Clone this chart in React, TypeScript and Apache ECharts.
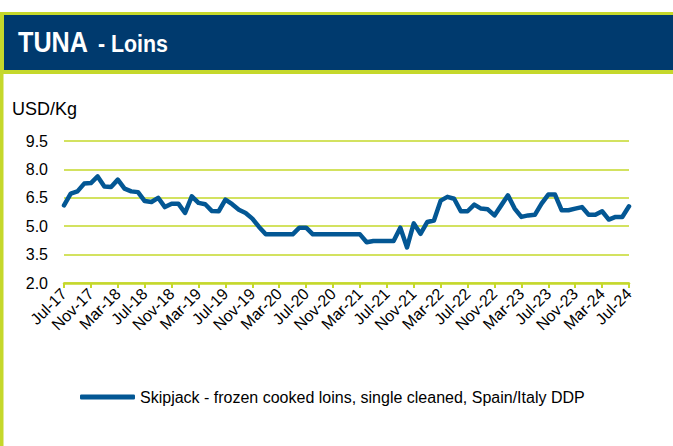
import React, { useEffect, useRef } from "react";
import * as echarts from "echarts";

const monthNames = ["Jan", "Feb", "Mar", "Apr", "May", "Jun", "Jul", "Aug", "Sep", "Oct", "Nov", "Dec"];
const startYear = 2017;
const startMonth = 6; // July
const pointCount = 85;
const categories: string[] = [];
for (let k = 0; k < pointCount; k++) {
  const m = (startMonth + k) % 12;
  const y = startYear + Math.floor((startMonth + k) / 12);
  categories.push(`${monthNames[m]}-${String(y).slice(2)}`);
}

const seriesName = "Skipjack - frozen cooked loins, single cleaned, Spain/Italy DDP";
const skipjackValues = [
  6.10, 6.72, 6.84, 7.25, 7.28, 7.63, 7.10, 7.07, 7.46, 6.98, 6.84, 6.80,
  6.33, 6.28, 6.50, 6.01, 6.19, 6.19, 5.70, 6.58, 6.23, 6.16, 5.80, 5.79,
  6.40, 6.16, 5.87, 5.70, 5.40, 4.96, 4.57, 4.57, 4.57, 4.57, 4.57, 4.92,
  4.92, 4.57, 4.57, 4.57, 4.57, 4.57, 4.57, 4.57, 4.57, 4.15, 4.22, 4.22,
  4.22, 4.22, 4.92, 3.88, 5.15, 4.60, 5.22, 5.30, 6.35, 6.55, 6.45, 5.79,
  5.79, 6.14, 5.93, 5.89, 5.57, 6.10, 6.63, 5.93, 5.49, 5.57, 5.60, 6.19,
  6.67, 6.67, 5.84, 5.84, 5.93, 6.01, 5.61, 5.61, 5.79, 5.35, 5.49, 5.49,
  6.05,
];

const yMin = 2.0;
const yMax = 9.5;
const yStep = 1.5;

const GREEN = "#c5d82b";
const NAVY = "#003a6e";
const LINE = "#035794";
const FONT = "'Liberation Sans', Arial, sans-serif";

export default function App() {
  const ref = useRef<HTMLDivElement>(null);
  useEffect(() => {
    if (!ref.current) return;
    const chart = echarts.init(ref.current, undefined, { renderer: "svg" });
    chart.setOption({
      animation: false,
      backgroundColor: "#ffffff",
      textStyle: { fontFamily: FONT },
      graphic: [
        { type: "rect", shape: { x: 0, y: 12, width: 673, height: 62 }, style: { fill: GREEN } },
        { type: "rect", shape: { x: 4, y: 15, width: 669, height: 55 }, style: { fill: NAVY } },
        { type: "rect", shape: { x: 0, y: 74, width: 3.5, height: 372 }, style: { fill: GREEN } },
        {
          type: "text",
          x: 18,
          y: 27,
          scaleX: 0.84,
          style: { text: "TUNA", fill: "#ffffff", font: `bold 30px ${FONT}`, verticalAlign: "top" },
        },
        {
          type: "text",
          x: 98,
          y: 32,
          scaleX: 0.89,
          style: { text: "- Loins", fill: "#ffffff", font: `bold 24px ${FONT}`, verticalAlign: "top" },
        },
        {
          type: "text",
          left: 12,
          top: 100,
          style: { text: "USD/Kg", fill: "#000000", font: `18px ${FONT}` },
        },
      ],
      grid: { left: 64, right: 44, top: 141, bottom: 163, containLabel: false },
      legend: {
        left: 80,
        top: 389,
        padding: 0,
        itemWidth: 55,
        itemHeight: 5,
        data: [{ name: seriesName, icon: "roundRect" }],
        textStyle: { fontSize: 16, color: "#000000", padding: [0, 0, 0, 0] },
      },
      xAxis: {
        type: "category",
        data: categories,
        boundaryGap: false,
        axisLine: { lineStyle: { color: GREEN, width: 2.5 } },
        axisTick: { show: true, interval: 3, length: 5, lineStyle: { color: GREEN, width: 2 } },
        axisLabel: { interval: 3, rotate: 45, fontSize: 16, color: "#000000", margin: 8 },
        splitLine: { show: false },
      },
      yAxis: {
        type: "value",
        min: yMin,
        max: yMax,
        interval: yStep,
        axisLine: { show: false },
        axisTick: { show: false },
        axisLabel: {
          fontSize: 16,
          color: "#000000",
          margin: 16,
          formatter: (v: number) => v.toFixed(1),
        },
        splitLine: { lineStyle: { color: GREEN, width: 1.5 } },
      },
      series: [
        {
          name: seriesName,
          type: "line",
          data: skipjackValues,
          showSymbol: false,
          symbol: "none",
          lineStyle: { color: LINE, width: 4.5, join: "round", cap: "round" },
          itemStyle: { color: LINE },
        },
      ],
    });
    return () => chart.dispose();
  }, []);
  return (
    <div style={{ position: "fixed", left: 0, top: 0, width: 673, height: 446, background: "#fff" }}>
      <div ref={ref} style={{ width: 673, height: 446 }} />
    </div>
  );
}
